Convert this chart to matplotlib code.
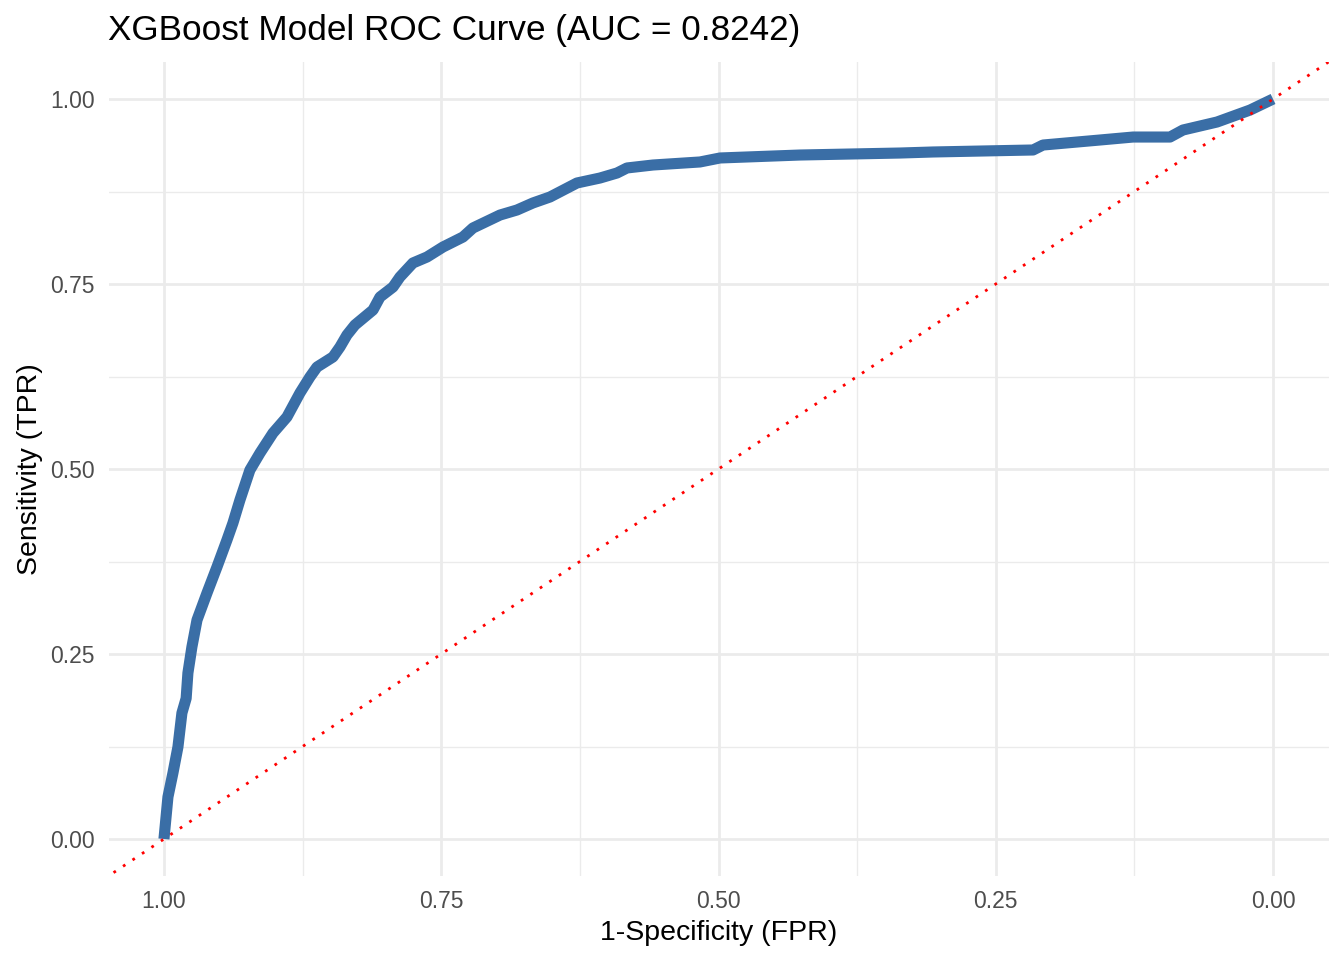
import matplotlib.pyplot as plt
import numpy as np

# ROC points (specificity on a reversed axis)
specificity = [1.000, 0.9964, 0.9919, 0.9874, 0.9838, 0.9800, 0.9784, 0.9748,
               0.9702, 0.9612, 0.9522, 0.9432, 0.9378, 0.9315, 0.9225, 0.9134,
               0.9017, 0.8891, 0.8774, 0.8684, 0.8620, 0.8476, 0.8413, 0.8350,
               0.8278, 0.8115, 0.8052, 0.7935, 0.7872, 0.7755, 0.7628, 0.7484,
               0.7304, 0.7214, 0.6970, 0.6817, 0.6673, 0.6519, 0.6276, 0.6069,
               0.5915, 0.5825, 0.5591, 0.5167, 0.4986, 0.4265, 0.3363, 0.3066,
               0.2164, 0.2074, 0.1560, 0.1262, 0.0929, 0.0812, 0.0505, 0.0207,
               0.000]
sensitivity = [0.000, 0.0568, 0.0892, 0.1243, 0.1703, 0.1900, 0.2243, 0.2595,
               0.2959, 0.3324, 0.3676, 0.4041, 0.4270, 0.4581, 0.4986, 0.5216,
               0.5486, 0.5703, 0.6027, 0.6243, 0.6378, 0.6514, 0.6649, 0.6811,
               0.6946, 0.7149, 0.7324, 0.7459, 0.7595, 0.7784, 0.7865, 0.8000,
               0.8135, 0.8257, 0.8432, 0.8500, 0.8595, 0.8676, 0.8865, 0.8932,
               0.9000, 0.9068, 0.9108, 0.9149, 0.9203, 0.9243, 0.9270, 0.9284,
               0.9311, 0.9378, 0.9446, 0.9486, 0.9486, 0.9581, 0.9689, 0.9851,
               1.000]
auc_value = 0.8242
tick_values = [1.00, 0.75, 0.50, 0.25, 0.00]

plt.rcParams['font.family'] = ['Liberation Sans', 'DejaVu Sans']

fig = plt.figure(figsize=(13.44, 9.6), dpi=100)
ax = fig.add_axes([108.5 / 1344, 84 / 960, 1220 / 1344, 814 / 960])

# theme_minimal look
for s in ax.spines.values():
    s.set_visible(False)
ax.set_facecolor('white')
ax.set_xticks(tick_values)
ax.set_yticks(tick_values)
ax.set_xticks([0.875, 0.625, 0.375, 0.125], minor=True)
ax.set_yticks([0.875, 0.625, 0.375, 0.125], minor=True)
ax.grid(which='major', color='#EBEBEB', linewidth=2.0)
ax.grid(which='minor', color='#EBEBEB', linewidth=1.0)
ax.set_axisbelow(True)
ax.tick_params(which='both', length=0, pad=10, labelsize=16.5, labelcolor='#4D4D4D')
ax.set_xticklabels([f'{v:.2f}' for v in tick_values])
ax.set_yticklabels([f'{v:.2f}' for v in tick_values])

ax.set_xlim(1.05, -0.05)
ax.set_ylim(-0.05, 1.05)

ax.plot(specificity, sensitivity, color='#3A6EA6', linewidth=8.0,
        solid_capstyle='butt', solid_joinstyle='round', zorder=3)
ax.axline((1, 0), (0, 1), color='red', linewidth=2.0,
          linestyle=(0, (1, 3.1)), zorder=4)

ax.set_xlabel('1-Specificity (FPR)', fontsize=20.5, labelpad=5)
ax.set_ylabel('Sensitivity (TPR)', fontsize=20.5, labelpad=5)
fig.text(108 / 1344, 1 - 40 / 960, f'XGBoost Model ROC Curve (AUC = {auc_value:.4f})',
         fontsize=25.3, ha='left', va='baseline')

plt.savefig('out.png', dpi=100)
